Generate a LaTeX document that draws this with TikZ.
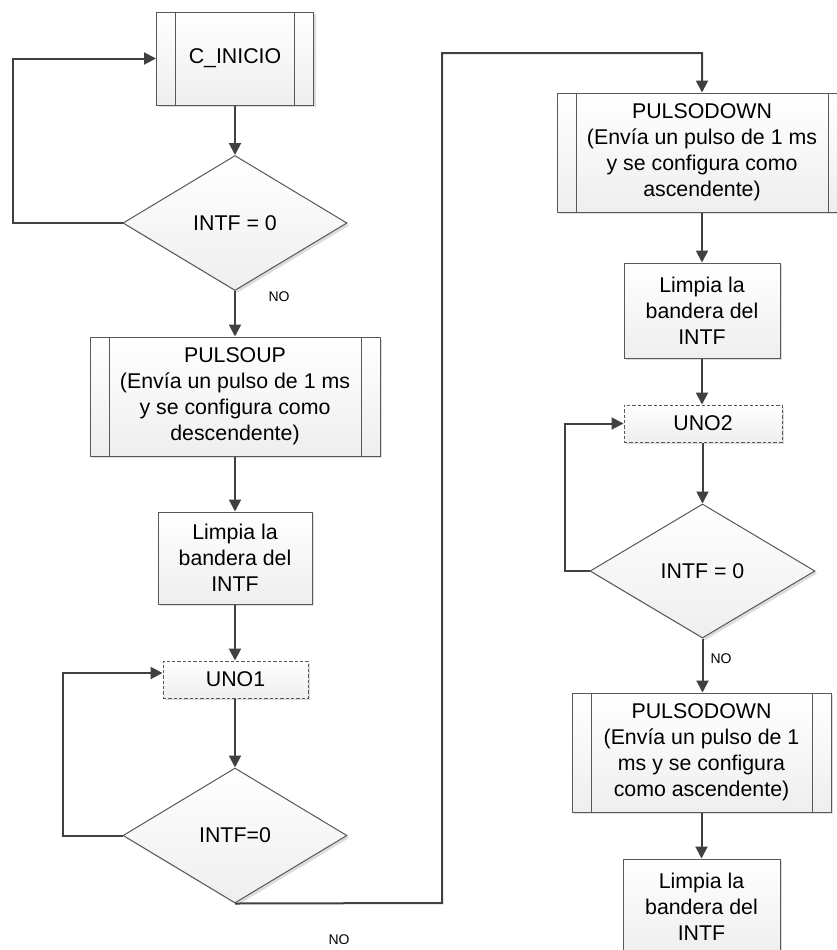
\documentclass[tikz,border=0pt]{standalone}
\usepackage{fontspec}
\setmainfont{Liberation Sans}
\usetikzlibrary{shapes.geometric,arrows.meta,shadows}
\definecolor{linec}{HTML}{404040}
\definecolor{borderc}{HTML}{585858}
\tikzset{
  base/.style={draw=borderc, line width=0.75pt, top color=white, bottom color=gray!13,
    drop shadow={shadow xshift=1.8pt, shadow yshift=-1.8pt, fill=gray!60, opacity=0.45},
    font=\fontsize{16}{19.5}\selectfont, align=center, inner sep=0pt},
  procbox/.style={base, rectangle},
  subbox/.style={base, rectangle,
    path picture={\draw[borderc, line width=0.75pt]
      ([xshift=14.25pt]path picture bounding box.north west) -- ([xshift=14.25pt]path picture bounding box.south west)
      ([xshift=-14.25pt]path picture bounding box.north east) -- ([xshift=-14.25pt]path picture bounding box.south east);}},
  dashbox/.style={base, rectangle, dash pattern=on 2.6pt off 1.4pt},
  decision/.style={base, diamond, minimum width=168pt, minimum height=101.25pt},
  conn/.style={draw=linec, line width=1.5pt, -{Triangle[length=9pt,width=9pt]}},
  plainconn/.style={draw=linec, line width=1.5pt},
  lbl/.style={font=\fontsize{10.5}{12}\selectfont, inner sep=0pt}
}
\begin{document}
\begin{tikzpicture}[x=0.75pt, y=-0.75pt]
\useasboundingbox (0,0) rectangle (837,950);
\clip (0,0) rectangle (837,950);
\fill[white] (0,0) rectangle (837,950);

% left column
\node[subbox, minimum width=117.75pt, minimum height=69.75pt] (cinicio) at (235,58.5) {C\_INICIO};
\node[decision] (d1) at (235,223) {INTF = 0};
\node[subbox, minimum width=217.5pt, minimum height=89.25pt] (pulsoup) at (235,396.5)
  {PULSOUP\\(Envía un pulso de 1 ms\\y se configura como\\descendente)};
\node[procbox, minimum width=115.5pt, minimum height=69pt] (limpia1) at (235,558)
  {Limpia la\\bandera del\\INTF};
\node[dashbox, minimum width=108.75pt, minimum height=27.75pt] (uno1) at (235.5,679.5) {UNO1};
\node[decision] (d2) at (235,835.5) {INTF=0};

% right column
\node[subbox, minimum width=217.5pt, minimum height=89.25pt] (pd1) at (702,152.5)
  {PULSODOWN\\(Envía un pulso de 1 ms\\y se configura como\\ascendente)};
\node[procbox, minimum width=117pt, minimum height=71.25pt] (limpia2) at (702,310.5)
  {Limpia la\\bandera del\\INTF};
\node[dashbox, minimum width=118.5pt, minimum height=27.75pt] (uno2) at (703,423.5) {UNO2};
\node[decision, minimum width=168.75pt, minimum height=100.5pt] (d3) at (702.5,571) {INTF = 0};
\node[subbox, minimum width=194.25pt, minimum height=89.25pt] (pd2) at (701.5,752.5)
  {PULSODOWN\\(Envía un pulso de 1\\ms y se configura\\como ascendente)};
\node[procbox, minimum width=117.75pt, minimum height=71.25pt] (limpia3) at (701.5,906.5)
  {Limpia la\\bandera del\\INTF};

% labels
\node[lbl] (no1) at (279,297) {NO};
\node[lbl] (no2) at (339,940) {NO};
\node[lbl] (no3) at (721,659) {NO};

% helper coordinates
\coordinate (loop1) at (13,58.5);
\coordinate (loop2) at (63,673);
\coordinate (loop3) at (565,423.5);
\coordinate (jb) at (442,903);
\coordinate (jt) at (442,53);

% connectors
\draw[conn] (cinicio) -- (d1);
\draw[conn] (d1.west) -| (loop1) -- (cinicio.west);
\draw[conn] (d1) -- (pulsoup);
\draw[conn] (pulsoup) -- (limpia1);
\draw[conn] (limpia1) -- (uno1.north -| limpia1);
\draw[conn] (uno1.south -| d2) -- (d2);
\draw[conn] (d2.west) -| (loop2) -- (uno1.west |- loop2);
\draw[conn] (d2.south) -- (jb) -- (jt) -| (pd1.north);
\draw[conn] (pd1) -- (limpia2);
\draw[conn] (limpia2) -- (uno2.north -| limpia2);
\draw[conn] (uno2.south -| d3) -- (d3);
\draw[conn] (d3.west) -| (loop3) -- (uno2.west);
\draw[conn] (d3.south) -- (pd2.north -| d3.south);
\draw[conn] (pd2) -- (limpia3);
\end{tikzpicture}
\end{document}
